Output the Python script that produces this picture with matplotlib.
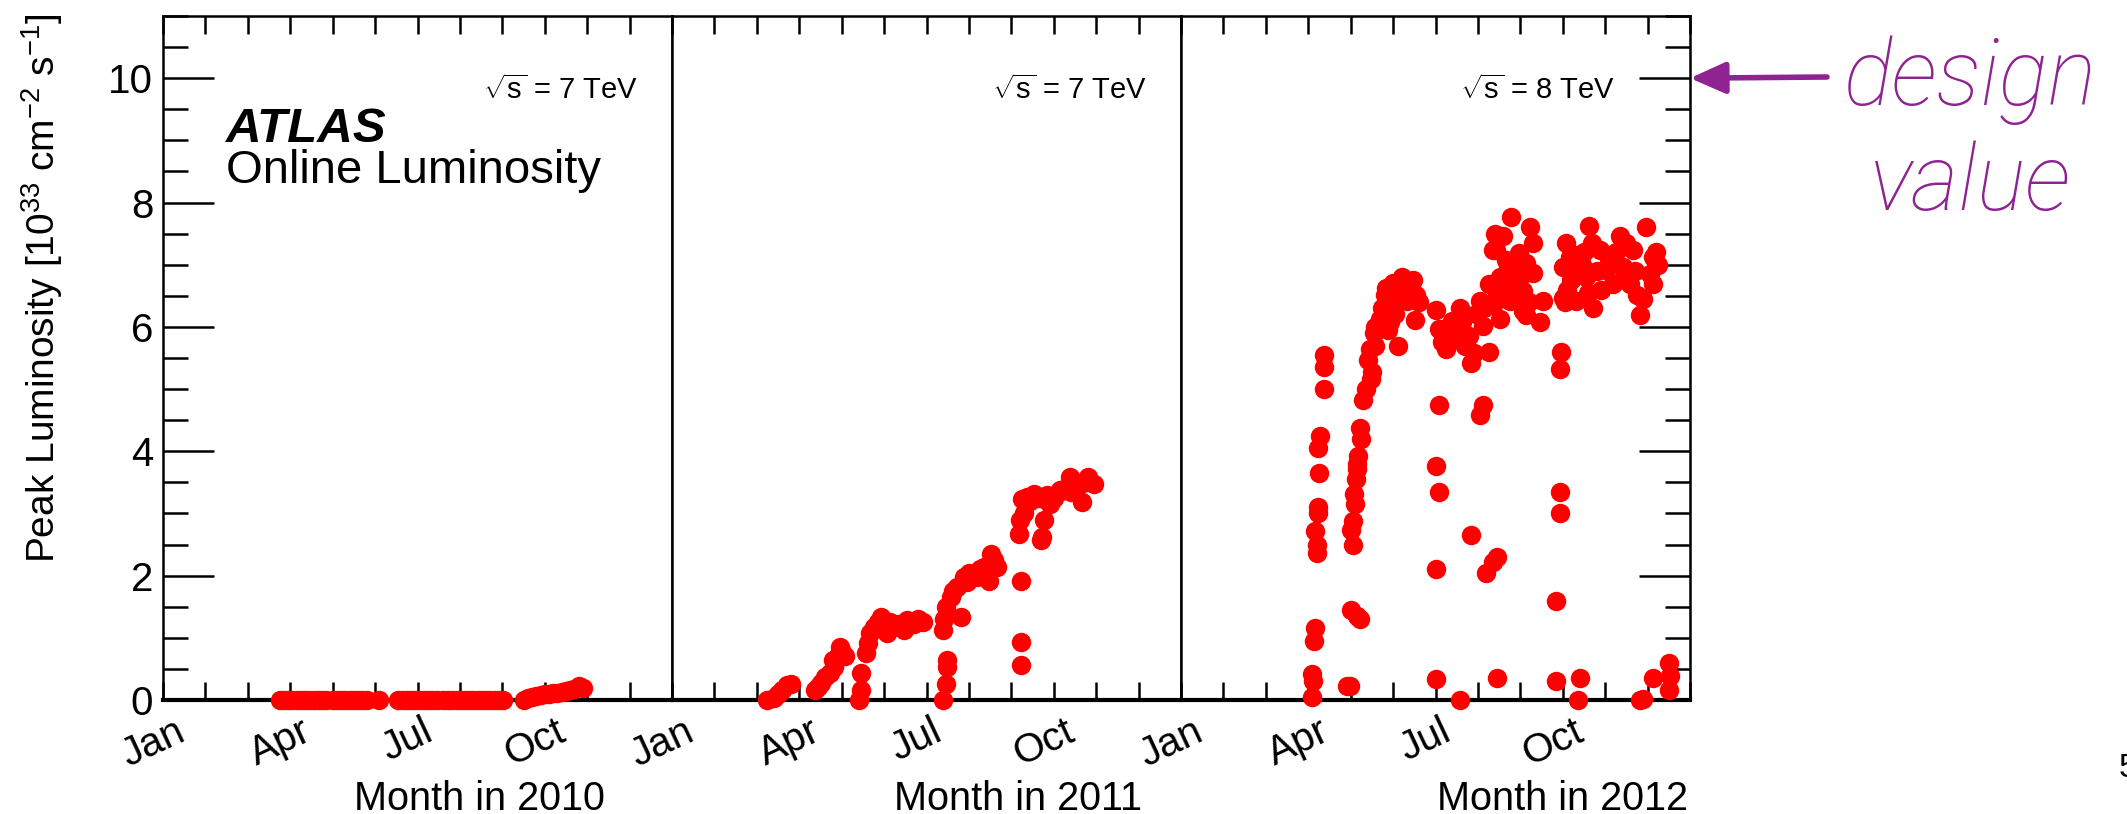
"""ATLAS online peak luminosity 2010-2012, three yearly panels."""

import matplotlib

matplotlib.use("Agg")
import matplotlib.pyplot as plt
from matplotlib.ticker import MultipleLocator
from matplotlib.transforms import ScaledTranslation

W, H = 2127, 814

# peak luminosity [1e33 cm^-2 s^-1] vs. month of the year (0 = 1 Jan)
month_2010 = [2.75, 2.85, 2.95, 3.05, 3.15, 3.25, 3.35, 3.45, 3.55, 3.65, 3.75, 3.85,
              4.0, 4.1, 4.2, 4.3, 4.4, 4.5, 4.6, 4.7, 4.8, 5.1,
              5.55, 5.65, 5.75, 5.85, 5.95, 6.05, 6.15, 6.25, 6.35, 6.45, 6.6,
              6.72, 6.82, 6.92, 7.02, 7.12, 7.22, 7.32, 7.42, 7.52, 7.62, 7.72, 7.82, 7.92, 8.02,
              8.5, 8.6, 8.7, 8.8, 8.9, 9.0, 9.1, 9.2, 9.3, 9.4, 9.5, 9.6, 9.7, 9.8, 9.9]
lumi_2010 = [0.0, 0.0, 0.0, 0.0, 0.0, 0.0, 0.0, 0.0, 0.0, 0.0, 0.0, 0.0,
             0.0, 0.0, 0.0, 0.0, 0.0, 0.0, 0.0, 0.0, 0.0, 0.0,
             0.0, 0.0, 0.0, 0.0, 0.0, 0.0, 0.0, 0.0, 0.0, 0.0, 0.0,
             0.0, 0.0, 0.0, 0.0, 0.0, 0.0, 0.0, 0.0, 0.0, 0.0, 0.0, 0.0, 0.0, 0.0,
             0.0, 0.03, 0.05, 0.07, 0.08, 0.09, 0.1, 0.11, 0.12, 0.13, 0.14, 0.16, 0.18, 0.22, 0.19]

month_2011 = [2.25, 2.40, 2.50, 2.60, 2.70, 2.80,
              3.36, 3.44, 3.52, 3.60, 3.72, 3.83, 3.80, 3.91, 3.99, 4.07, 3.95,
              4.42, 4.46, 4.46,
              4.58, 4.62, 4.66, 4.77, 4.93, 5.08, 5.04, 5.24, 5.32, 5.48, 5.55, 5.71, 5.79, 5.91,
              4.85, 5.00, 5.15, 5.40, 5.65,
              6.38, 6.46, 6.49, 6.49,
              6.38, 6.46, 6.57, 6.81, 6.73, 6.88, 7.12, 7.35, 7.51, 7.67, 7.47, 7.20,
              6.42, 6.62, 6.95, 7.00, 7.25, 7.60, 7.40,
              8.22, 8.22, 8.22,
              8.18, 8.29, 8.37, 8.53, 8.72, 8.76, 8.92, 9.15, 9.39, 8.24, 8.69, 8.78, 9.13,
              9.50, 9.81, 9.95, 9.67, 9.40, 8.45, 8.62, 9.00, 9.25, 9.60, 9.75, 8.20, 8.85]
lumi_2011 = [0.00, 0.04, 0.10, 0.16, 0.24, 0.26,
             0.16, 0.21, 0.27, 0.37, 0.43, 0.53, 0.64, 0.70, 0.80, 0.70, 0.86,
             0.00, 0.16, 0.43,
             0.75, 0.91, 1.07, 1.17, 1.33, 1.07, 1.23, 1.17, 1.23, 1.12, 1.28, 1.23, 1.31, 1.26,
             1.25, 1.15, 1.25, 1.20, 1.22,
             0.00, 0.25, 0.64, 0.53,
             1.12, 1.50, 1.66, 1.33, 1.82, 1.98, 2.03, 2.14, 2.35, 2.14, 1.92, 1.98,
             1.30, 1.75, 1.90, 2.05, 2.10, 2.25, 2.05,
             1.92, 0.93, 0.56,
             2.67, 3.00, 3.26, 3.32, 2.62, 2.89, 3.15, 3.37, 3.58, 3.24, 2.57, 3.24, 3.35,
             3.51, 3.58, 3.47, 3.19, 3.35, 3.20, 3.25, 3.25, 3.40, 3.45, 3.50, 2.90, 3.30]

month_2012 = [3.10, 3.12, 3.10, 3.13, 3.16, 3.20, 3.20, 3.17, 3.22, 3.24, 3.25, 3.22, 3.27,
              3.38, 3.38, 3.38,
              3.92, 3.99, 4.00, 4.15, 4.22,
              4.05, 4.00, 4.06, 4.10, 4.08, 4.13, 4.15, 4.16, 4.18, 4.25, 4.23, 4.30, 4.37,
              4.48, 4.40, 4.45, 4.55, 4.58,
              4.68, 4.76, 4.92, 5.11, 4.84, 4.82, 5.07, 5.23, 5.20, 5.47, 5.40, 5.55, 5.33,
              5.51, 4.95, 5.00, 5.15, 4.88, 5.05, 5.30, 5.60, 4.73, 4.58, 4.50,
              6.02, 6.57, 6.02, 6.08, 6.02, 6.08, 6.84, 7.20, 7.35, 7.45, 7.12, 7.04,
              6.02, 6.08, 6.15, 6.25, 6.57, 6.63, 6.78, 6.84, 6.90, 7.12, 7.25, 7.04, 7.27,
              6.45, 6.50, 6.70, 6.40, 6.30, 6.95, 7.15,
              7.35, 7.40, 7.79, 7.60, 8.22, 8.30, 7.43, 7.66, 7.98, 8.14, 8.30, 7.51, 7.83,
              8.06, 7.59, 7.36, 7.75, 8.06, 7.51, 8.54, 8.46, 8.14, 7.90, 7.70, 8.00, 8.20,
              7.45, 7.46,
              8.97, 8.93, 8.93, 8.93, 8.85, 8.85, 9.36, 9.40,
              9.00, 9.08, 9.00, 9.16, 9.32, 9.32, 9.63, 9.71, 9.87, 10.03, 10.19, 10.35,
              10.50, 10.42, 10.58, 10.74, 10.81, 10.66, 10.97, 11.13, 11.21, 11.13, 9.10,
              9.20, 9.45, 9.55, 9.50, 9.80, 9.90, 10.10, 10.25, 9.70, 10.45, 10.70, 11.05,
              11.25, 9.05, 9.30, 9.60, 10.90, 11.20,
              10.81, 10.90, 11.13, 11.50, 11.52, 11.50]
lumi_2012 = [0.05, 0.30, 0.42, 0.95, 1.15, 2.36, 2.50, 2.71, 3.00, 3.10, 3.65, 4.06, 4.25,
             5.00, 5.35, 5.55,
             0.22, 0.22, 1.44, 1.35, 1.30,
             2.50, 2.74, 2.88, 3.15, 3.32, 3.55, 3.72, 3.80, 3.93, 4.20, 4.37, 4.83, 5.00,
             5.16, 5.47, 5.64, 5.91, 6.00,
             6.13, 6.30, 6.08, 5.69, 6.63, 6.52, 6.52, 6.69, 6.80, 6.75, 6.58, 6.52, 6.41,
             6.11, 6.35, 6.70, 6.60, 5.95, 6.20, 6.55, 6.40, 6.30, 5.70, 5.28,
             0.33, 0.00, 2.10, 3.35, 3.76, 4.75, 2.65, 2.05, 2.22, 2.30, 4.75, 4.58,
             6.27, 5.97, 5.75, 5.64, 6.30, 6.08, 5.86, 5.42, 5.58, 6.02, 5.60, 6.41, 6.69,
             5.95, 5.80, 5.70, 6.10, 6.00, 6.20, 6.30,
             7.24, 7.50, 7.77, 7.46, 7.60, 7.35, 7.24, 7.07, 7.19, 7.02, 6.86, 6.80, 6.69,
             6.58, 6.47, 6.36, 6.41, 6.25, 6.13, 6.41, 6.08, 6.19, 6.90, 7.00, 6.80, 6.40,
             6.55, 0.36,
             5.60, 5.33, 3.35, 3.00, 1.60, 0.31, 0.00, 0.36,
             6.47, 7.35, 6.97, 7.13, 6.86, 6.41, 7.63, 6.30, 7.24, 6.91, 6.69, 7.46,
             7.35, 6.97, 6.69, 6.52, 6.19, 7.24, 7.60, 7.13, 7.02, 6.69, 6.60,
             6.75, 7.00, 6.80, 7.20, 6.90, 6.60, 7.10, 7.20, 7.35, 6.80, 6.90, 6.85,
             7.00, 6.40, 7.15, 6.55, 6.45, 7.20,
             0.00, 0.02, 0.36, 0.60, 0.38, 0.16]

years = ["2010", "2011", "2012"]
energies = ["7", "7", "8"]
month_names = ["Jan", "", "", "Apr", "", "", "Jul", "", "", "Oct", "", "", ""]
design_value = 10.0
purple = "#8e2391"

plt.rcParams["font.family"] = ["Liberation Sans", "DejaVu Sans"]
plt.rcParams["mathtext.fontset"] = "custom"
plt.rcParams["mathtext.rm"] = "Liberation Sans"
plt.rcParams["mathtext.it"] = "Liberation Sans:italic"
plt.rcParams["mathtext.bf"] = "Liberation Sans:bold"


def fx(px):
    return px / W


def fy(py):
    return 1 - py / H


fig = plt.figure(figsize=(W / 100, H / 100), dpi=100)
edges = [163, 672, 1181, 1690]
top, bottom = 16, 700
data = [(month_2010, lumi_2010), (month_2011, lumi_2011), (month_2012, lumi_2012)]
shift = ScaledTranslation(-10 / 100, 0, fig.dpi_scale_trans)
axes = []
for i, (months, lumi) in enumerate(data):
    ax = fig.add_axes([fx(edges[i]), fy(bottom), (edges[i + 1] - edges[i]) / W, (bottom - top) / H])
    ax.plot(months, lumi, "o", color="red", ms=14, mec="none", clip_on=False, zorder=3)
    ax.set_xlim(0, 12)
    ax.set_ylim(0, 11)
    ax.set_xticks(range(13), labels=month_names)
    ax.tick_params(axis="x", direction="in", length=13, width=1.8, top=True, labelsize=29, pad=9)
    for lbl in ax.get_xticklabels():
        lbl.set_rotation(25)
        lbl.set_ha("center")
        lbl.set_transform(lbl.get_transform() + shift)
    ax.yaxis.set_major_locator(MultipleLocator(2))
    ax.yaxis.set_minor_locator(MultipleLocator(0.5))
    for side in ("top", "left", "right"):
        ax.spines[side].set_linewidth(1.8)
    ax.spines["bottom"].set_linewidth(3.0)
    if i == 0:
        ax.tick_params(axis="y", which="major", direction="in", length=37, width=1.8, labelsize=29, pad=7)
        ax.tick_params(axis="y", which="minor", direction="in", length=18, width=1.8)
    elif i == 1:
        ax.tick_params(axis="y", which="both", left=False, labelleft=False)
    else:
        ax.tick_params(axis="y", which="both", left=False, labelleft=False, right=True, direction="in")
        ax.tick_params(axis="y", which="major", length=37, width=1.8)
        ax.tick_params(axis="y", which="minor", length=18, width=1.8)
    axes.append(ax)

# sqrt(s) labels, right aligned inside each panel
for right_px, e in zip([638, 1147, 1615], energies):
    fig.text(fx(right_px), fy(99), r"$\sqrt{\mathrm{s}}$ = " + e + " TeV", fontsize=21,
             ha="right", va="baseline")

# axis titles
for right_px, year in zip([605, 1142, 1688], years):
    fig.text(fx(right_px), fy(810), f"Month in {year}", fontsize=28.5, ha="right", va="baseline")
fig.text(fx(42), fy(14), r"Peak Luminosity [10$^{33}$ cm$^{-2}$ s$^{-1}$]", fontsize=28,
         rotation=90, ha="center", va="top")

fig.text(fx(225), fy(142), "ATLAS", fontsize=35.5, fontweight="bold", fontstyle="italic", va="baseline")
fig.text(fx(226), fy(183), "Online Luminosity", fontsize=34, va="baseline")

# design value arrow and label
axes[2].annotate("", xy=(1.0, design_value), xycoords=("axes fraction", "data"),
                 xytext=(1827, H - 77), textcoords="figure pixels", annotation_clip=False,
                 arrowprops=dict(arrowstyle="-|>,head_length=0.36,head_width=0.16", mutation_scale=60,
                                 color=purple, lw=4, shrinkA=0, shrinkB=0))
for text, base in (("design", 105), ("value", 210)):
    fig.text(fx(1970), fy(base), text, fontsize=66, color=purple, ha="center", va="baseline",
             family=["Roboto", "DejaVu Sans"], fontweight="light", fontstyle="italic")

fig.text(fx(2119), fy(777), "5", fontsize=24, ha="left", va="baseline")

fig.savefig("out.png", dpi=100)
